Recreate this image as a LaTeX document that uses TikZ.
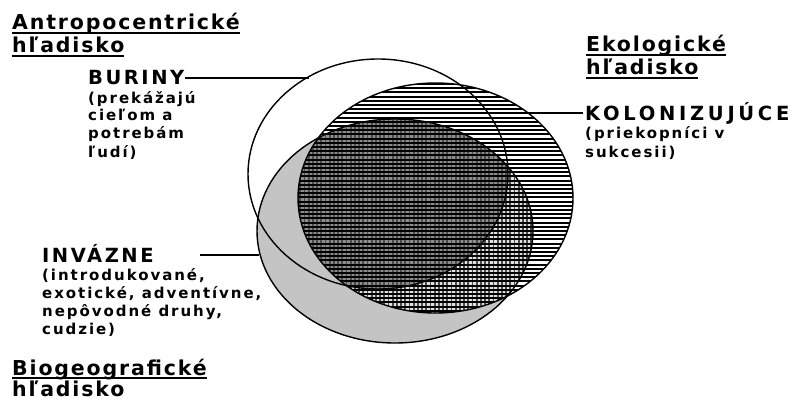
\documentclass[tikz,border=0pt]{standalone}
\usepackage{fontspec}
\setmainfont{DejaVu Sans}
\newcommand\ulin[1]{\setbox0=\hbox{#1}\rlap{\rule[-3.6pt]{\wd0}{1.8pt}}\box0}
\begin{document}
\begin{tikzpicture}[x=1pt,y=-1pt,
  hd/.style={font=\fontsize{20.5}{24}\selectfont\bfseries\addfontfeature{LetterSpace=9}, inner sep=0, anchor=base west},
  capl/.style={font=\fontsize{19.5}{22}\selectfont\bfseries\addfontfeature{LetterSpace=13}, inner sep=0, anchor=base west},
  capw/.style={font=\fontsize{19.5}{22}\selectfont\bfseries\addfontfeature{LetterSpace=19}, inner sep=0, anchor=base west},
  sub/.style={font=\fontsize{15}{18}\selectfont\bfseries\addfontfeature{LetterSpace=13}, inner sep=0, anchor=base west},
  outline/.style={line width=1.4pt},
  lead/.style={line width=1.3pt},
  hatch/.style={line width=2pt},
  vhatch/.style={line width=1.8pt, black!70}]
\useasboundingbox (0,0) rectangle (794,401);
\def\ellA{(378,174) ellipse [x radius=130, y radius=115]}
\def\ellB{(435.5,198) ellipse [x radius=137.5, y radius=115]}
\def\ellC{(395,231) ellipse [x radius=138, y radius=112]}
% C: dotted (light grey)
\fill[black!23] \ellC;
% B and C: crosshatch
\begin{scope}
  \clip \ellB; \clip \ellC;
  \fill[black!12] \ellB;
  \begin{scope}
    \clip \ellA;
    \fill[black!45] \ellA;
  \end{scope}
  \foreach \xx in {296,300.2,...,540} \draw[vhatch] (\xx,80) -- (\xx,350);
\end{scope}
% B: horizontal lines
\begin{scope}
  \clip \ellB;
  \foreach \yy in {84,88.2,...,316} \draw[hatch] (290,\yy) -- (580,\yy);
\end{scope}
% outlines
\draw[outline] \ellA;
\draw[outline] \ellB;
\draw[outline] \ellC;
% headings
\node[hd] (h1) at (12,30) {\ulin{Antropocentrické}};
\node[hd] (h1b) at (12,53) {\ulin{hľadisko}};
\node[hd] (h2) at (586,52) {\ulin{Ekologické}};
\node[hd] (h2b) at (586,75) {\ulin{hľadisko}};
\node[hd] (h3) at (12,375) {\ulin{Biogeografické}};
\node[hd] (h3b) at (12,396) {hľadisko};
% BURINY
\node[capl] (bur) at (88,85) {BURINY};
\node[sub] (bur1) at (88,103) {(prekážajú};
\node[sub] (bur2) at (88,121) {cieľom a};
\node[sub] (bur3) at (88,139) {potrebám};
\node[sub] (bur4) at (88,157) {ľudí)};
\coordinate (aEdge) at (309,78);
\draw[lead] ([xshift=1pt]bur.east |- aEdge) -- (aEdge);
% KOLONIZUJUCE
\node[capw] (kol) at (585,121) {KOLONIZUJÚCE};
\node[sub] (kol1) at (585,139) {(priekopníci v};
\node[sub] (kol2) at (585,157) {sukcesii)};
\coordinate (bEdge) at (527,113);
\draw[lead] (bEdge) -- ([xshift=-2pt]kol.west |- bEdge);
% INVAZNE
\node[capl] (inv) at (42,262) {INVÁZNE};
\node[sub] (inv1) at (42,280) {(introdukované,};
\node[sub] (inv2) at (42,298) {exotické, adventívne,};
\node[sub] (inv3) at (42,316) {nepôvodné druhy,};
\node[sub] (inv4) at (42,334) {cudzie)};
\coordinate (invStart) at (200,255);
\coordinate (cEdge) at (258.5,255);
\draw[lead] (invStart) -- (cEdge);
\end{tikzpicture}
\end{document}
